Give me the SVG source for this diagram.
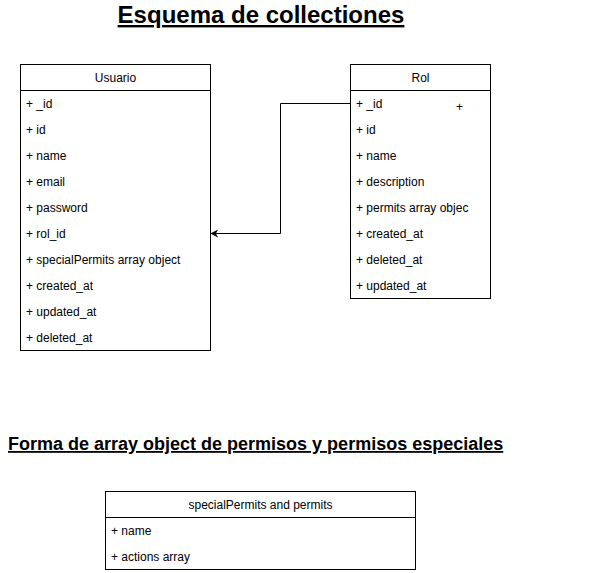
<svg xmlns="http://www.w3.org/2000/svg" width="592" height="573" viewBox="0 0 592 573">
<style>
.box{fill:#fff;stroke:#000;stroke-width:1}
.t{font-family:"Liberation Sans",Arial,sans-serif;font-size:12px;fill:#000}
.h{text-anchor:middle}
.title{font-family:"Liberation Sans",Arial,sans-serif;font-weight:bold;text-decoration:underline;fill:#000}
.edge{fill:none;stroke:#000;stroke-width:1}
</style>
<defs>
<marker id="arr" viewBox="0 0 10 10" refX="9" refY="5" markerWidth="8" markerHeight="8" orient="auto" markerUnits="userSpaceOnUse">
<path d="M0,0 L10,5 L0,10 L3,5 Z" fill="#000"/>
</marker>
</defs>
<rect width="592" height="573" fill="#fff"/>
<text class="title" x="261" y="23" text-anchor="middle" font-size="24">Esquema de collectiones</text>
<text class="title" x="8" y="450" font-size="18">Forma de array object de permisos y permisos especiales</text>

<g id="connectors">
<path class="edge" d="M350.5,103.5 L280.5,103.5 L280.5,233.5 L211,233.5" marker-end="url(#arr)"/>
</g>

<g id="usuario">
<rect class="box" x="20.5" y="64.5" width="190" height="286"/>
<line class="edge" x1="20.5" y1="90.5" x2="210.5" y2="90.5"/>
<text class="t h" x="115.5" y="82">Usuario</text>
<text class="t" x="26" y="108">+ _id</text>
<text class="t" x="26" y="134">+ id</text>
<text class="t" x="26" y="160">+ name</text>
<text class="t" x="26" y="186">+ email</text>
<text class="t" x="26" y="212">+ password</text>
<text class="t" x="26" y="238">+ rol_id</text>
<text class="t" x="26" y="264">+ specialPermits array object</text>
<text class="t" x="26" y="290">+ created_at</text>
<text class="t" x="26" y="316">+ updated_at</text>
<text class="t" x="26" y="342">+ deleted_at</text>
</g>

<g id="rol">
<rect class="box" x="350.5" y="64.5" width="140" height="234"/>
<line class="edge" x1="350.5" y1="90.5" x2="490.5" y2="90.5"/>
<text class="t h" x="420.5" y="82">Rol</text>
<text class="t" x="356" y="108">+ _id</text>
<text class="t" x="456" y="111">+</text>
<text class="t" x="356" y="134">+ id</text>
<text class="t" x="356" y="160">+ name</text>
<text class="t" x="356" y="186">+ description</text>
<text class="t" x="356" y="212">+ permits array objec</text>
<text class="t" x="356" y="238">+ created_at</text>
<text class="t" x="356" y="264">+ deleted_at</text>
<text class="t" x="356" y="290">+ updated_at</text>
</g>

<g id="permits">
<rect class="box" x="105.5" y="491.5" width="310" height="78"/>
<line class="edge" x1="105.5" y1="517.5" x2="415.5" y2="517.5"/>
<text class="t h" x="260.5" y="509">specialPermits and permits</text>
<text class="t" x="111" y="535">+ name</text>
<text class="t" x="111" y="561">+ actions array</text>
</g>
</svg>
